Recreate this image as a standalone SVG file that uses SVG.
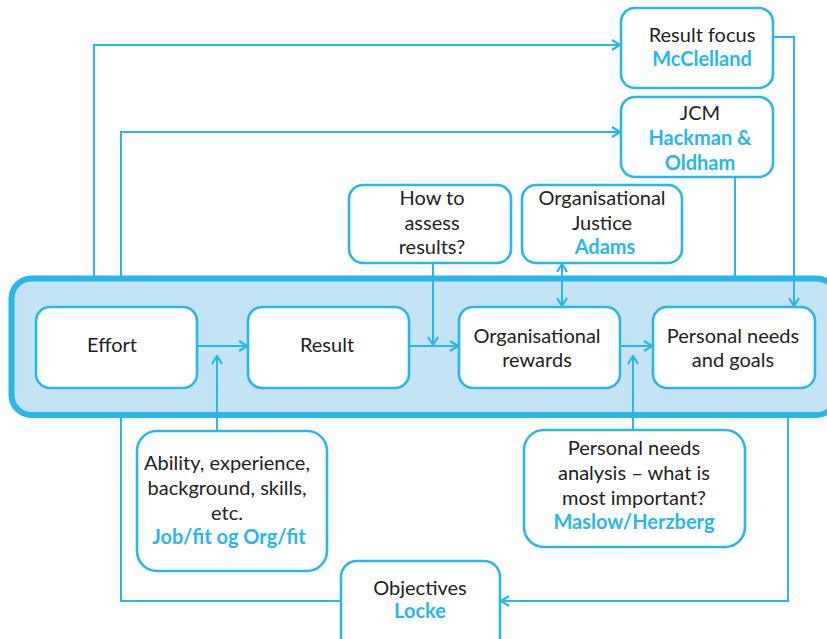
<svg xmlns="http://www.w3.org/2000/svg" width="827" height="639" viewBox="0 0 827 639">
  <style>
    .box { fill: #ffffff; stroke: #29b7ea; stroke-width: 2.6; }
    .band { fill: #c4e4f6; stroke: #29b7ea; stroke-width: 6; }
    .wire { fill: none; stroke: #29b7ea; stroke-width: 2; }
    text { font-family: Lato, "Open Sans", "Liberation Sans", sans-serif; font-size: 20px; fill: #222222; text-anchor: middle; }
    .who { font-weight: bold; fill: #29b7ea; }
  </style>
  <defs>
    <marker id="arrow" viewBox="0 0 10 12" refX="9" refY="6" markerWidth="10" markerHeight="12" markerUnits="userSpaceOnUse" orient="auto-start-reverse">
      <path d="M1,1 L9,6 L1,11" fill="none" stroke="#29b7ea" stroke-width="2.2"/>
    </marker>
  </defs>

  <rect width="827" height="639" fill="#ffffff"/>

  <!-- core process band -->
  <rect class="band" x="11.5" y="278.5" width="825" height="136.5" rx="20"/>

  <!-- connectors -->
  <g id="connectors">
    <path class="wire" d="M197,346 H247" marker-end="url(#arrow)"/>
    <path class="wire" d="M409,346 H458" marker-end="url(#arrow)"/>
    <path class="wire" d="M620,346 H652" marker-end="url(#arrow)"/>
    <path class="wire" d="M217,431 V356" marker-end="url(#arrow)"/>
    <path class="wire" d="M633,430 V356" marker-end="url(#arrow)"/>
    <path class="wire" d="M433,263 V345" marker-end="url(#arrow)"/>
    <path class="wire" d="M562,264 V306" marker-start="url(#arrow)" marker-end="url(#arrow)"/>
    <path class="wire" d="M735,177 V276"/>
    <path class="wire" d="M773,37 H794 V306" marker-end="url(#arrow)"/>
    <path class="wire" d="M94,276 V45 H620" marker-end="url(#arrow)"/>
    <path class="wire" d="M121,276 V132 H620" marker-end="url(#arrow)"/>
    <path class="wire" d="M121,418 V601 H341"/>
    <path class="wire" d="M788,418 V601 H501" marker-end="url(#arrow)"/>
  </g>

  <g id="effort">
    <rect class="box" x="36" y="307" width="161" height="81" rx="14"/>
    <text x="112" y="352">Effort</text>
  </g>
  <g id="result">
    <rect class="box" x="248" y="307" width="161" height="81" rx="14"/>
    <text x="327" y="352">Result</text>
  </g>
  <g id="org-rewards">
    <rect class="box" x="459" y="307" width="161" height="81" rx="14"/>
    <text x="537" y="343">Organisational</text>
    <text x="537" y="367">rewards</text>
  </g>
  <g id="personal-needs">
    <rect class="box" x="653" y="307" width="162" height="81" rx="14"/>
    <text x="733" y="343">Personal needs</text>
    <text x="733" y="367">and goals</text>
  </g>
  <g id="result-focus">
    <rect class="box" x="621" y="8" width="152" height="80" rx="14"/>
    <text x="702" y="42">Result focus</text>
    <text class="who" x="702" y="66">McClelland</text>
  </g>
  <g id="jcm">
    <rect class="box" x="621" y="97" width="152" height="80" rx="14"/>
    <text x="700" y="120">JCM</text>
    <text class="who" x="700" y="145">Hackman &amp;</text>
    <text class="who" x="700" y="170">Oldham</text>
  </g>
  <g id="assess">
    <rect class="box" x="349" y="185" width="162" height="78" rx="14"/>
    <text x="432" y="205">How to</text>
    <text x="432" y="230">assess</text>
    <text x="432" y="254">results?</text>
  </g>
  <g id="justice">
    <rect class="box" x="522" y="185" width="160" height="78" rx="14"/>
    <text x="602" y="205">Organisational</text>
    <text x="602" y="230">Justice</text>
    <text class="who" x="605" y="254">Adams</text>
  </g>
  <g id="ability">
    <rect class="box" x="137" y="431" width="190" height="140" rx="20"/>
    <text x="227" y="470">Ability, experience,</text>
    <text x="227" y="495">background, skills,</text>
    <text x="227" y="520">etc.</text>
    <text class="who" x="229" y="544">Job/fit og Org/fit</text>
  </g>
  <g id="needs-analysis">
    <rect class="box" x="524" y="430" width="221" height="117" rx="20"/>
    <text x="634" y="455">Personal needs</text>
    <text x="634" y="480">analysis – what is</text>
    <text x="634" y="505">most important?</text>
    <text class="who" x="634" y="529">Maslow/Herzberg</text>
  </g>
  <g id="objectives">
    <rect class="box" x="341" y="561" width="159" height="100" rx="16"/>
    <text x="420" y="595">Objectives</text>
    <text class="who" x="420" y="618">Locke</text>
  </g>
</svg>
